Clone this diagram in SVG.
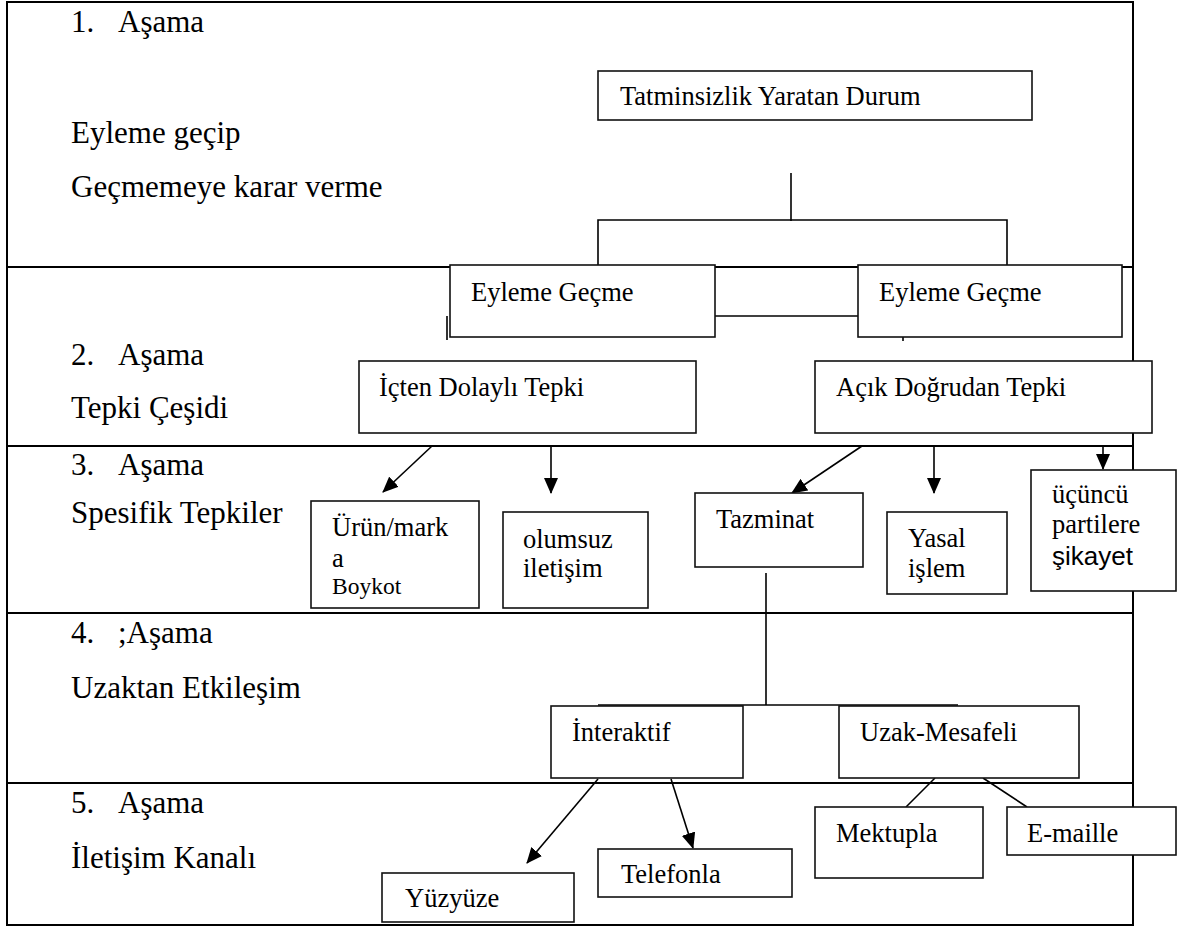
<svg xmlns="http://www.w3.org/2000/svg" width="1187" height="927" viewBox="0 0 1187 927">
<style>
.frame{fill:none;stroke:#000;stroke-width:2}
.div{stroke:#000;stroke-width:2}
.box{fill:#fff;stroke:#111;stroke-width:1.6}
.ln{fill:none;stroke:#000;stroke-width:1.6}
.lbl{font-family:"Liberation Serif","Times New Roman",serif;font-size:31px;fill:#000}
.t{font-family:"Liberation Serif","Times New Roman",serif;font-size:26.5px;fill:#000}
.ts{font-family:"Liberation Sans",Arial,sans-serif;font-size:26px;fill:#000}
</style>
<defs>
<marker id="ah" markerWidth="16" markerHeight="14" refX="15" refY="7" orient="auto" markerUnits="userSpaceOnUse">
<path d="M0,0 L16,7 L0,14 z" fill="#000"/>
</marker>
</defs>
<rect width="1187" height="927" fill="#fff"/>
<g id="frame">
<rect class="frame" x="7" y="2" width="1126" height="923"/>
<line class="div" x1="7" y1="267" x2="1133" y2="267"/>
<line class="div" x1="7" y1="446" x2="1133" y2="446"/>
<line class="div" x1="7" y1="613" x2="1133" y2="613"/>
<line class="div" x1="7" y1="783" x2="1133" y2="783"/>
</g>
<g id="stage-labels">
<text class="lbl" x="71" y="32">1.</text><text class="lbl" x="118" y="32">Aşama</text>
<text class="lbl" x="71" y="143">Eyleme geçip</text>
<text class="lbl" x="71" y="197">Geçmemeye karar verme</text>
<text class="lbl" x="71" y="365">2.</text><text class="lbl" x="118" y="365">Aşama</text>
<text class="lbl" x="71" y="418">Tepki Çeşidi</text>
<text class="lbl" x="71" y="475">3.</text><text class="lbl" x="118" y="475">Aşama</text>
<text class="lbl" x="71" y="523">Spesifik Tepkiler</text>
<text class="lbl" x="71" y="643">4.</text><text class="lbl" x="118" y="643">;Aşama</text>
<text class="lbl" x="71" y="698">Uzaktan Etkileşim</text>
<text class="lbl" x="71" y="813">5.</text><text class="lbl" x="118" y="813">Aşama</text>
<text class="lbl" x="71" y="868">İletişim Kanalı</text>
</g>
<g id="connectors">
<line class="ln" x1="791" y1="173" x2="791" y2="221"/>
<polyline class="ln" points="598,265 598,220 1007,220 1007,265"/>
<line class="ln" x1="715" y1="316" x2="858" y2="316"/>
<line class="ln" x1="447" y1="316" x2="447" y2="340"/>
<line class="ln" x1="903" y1="337" x2="903" y2="341"/>
<line class="ln" x1="432" y1="446" x2="383" y2="492" marker-end="url(#ah)"/>
<line class="ln" x1="551" y1="446" x2="551" y2="493" marker-end="url(#ah)"/>
<line class="ln" x1="862" y1="446" x2="792" y2="493" marker-end="url(#ah)"/>
<line class="ln" x1="934" y1="446" x2="934" y2="493" marker-end="url(#ah)"/>
<line class="ln" x1="1103" y1="446" x2="1103" y2="469" marker-end="url(#ah)"/>
<line class="ln" x1="766" y1="573" x2="766" y2="705"/>
<line class="ln" x1="598" y1="705" x2="958" y2="705"/>
<line class="ln" x1="598" y1="779" x2="527" y2="863" marker-end="url(#ah)"/>
<line class="ln" x1="671" y1="779" x2="693" y2="848" marker-end="url(#ah)"/>
<line class="ln" x1="935" y1="778" x2="906" y2="807"/>
<line class="ln" x1="983" y1="778" x2="1027" y2="807"/>
</g>
<g id="n-tatminsizlik"><rect class="box" x="598" y="71" width="434" height="49"/><text class="t" x="620" y="105">Tatminsizlik Yaratan Durum</text></g>
<g id="n-eyleme1"><rect class="box" x="450" y="265" width="265" height="72"/><text class="t" x="471" y="301">Eyleme Geçme</text></g>
<g id="n-eyleme2"><rect class="box" x="858" y="265" width="264" height="72"/><text class="t" x="879" y="301">Eyleme Geçme</text></g>
<g id="n-icten"><rect class="box" x="359" y="361" width="337" height="72"/><text class="t" x="379" y="396">İçten Dolaylı Tepki</text></g>
<g id="n-acik"><rect class="box" x="815" y="361" width="337" height="72"/><text class="t" x="836" y="396">Açık Doğrudan Tepki</text></g>
<g id="n-urun"><rect class="box" x="311" y="501" width="168" height="107"/><text class="t" x="332" y="536">Ürün/mark</text><text class="t" x="332" y="567">a</text><text class="t" x="332" y="594" style="font-size:23.5px">Boykot</text></g>
<g id="n-olumsuz"><rect class="box" x="503" y="512" width="145" height="96"/><text class="t" x="523" y="548">olumsuz</text><text class="t" x="523" y="577">iletişim</text></g>
<g id="n-tazminat"><rect class="box" x="695" y="493" width="168" height="74"/><text class="t" x="716" y="528">Tazminat</text></g>
<g id="n-yasal"><rect class="box" x="887" y="512" width="120" height="82"/><text class="t" x="908" y="547">Yasal</text><text class="t" x="908" y="577">işlem</text></g>
<g id="n-ucuncu"><rect class="box" x="1031" y="470" width="145" height="121"/><text class="t" x="1052" y="503">üçüncü</text><text class="t" x="1052" y="533">partilere</text><text class="ts" x="1052" y="565">şikayet</text></g>
<g id="n-interaktif"><rect class="box" x="551" y="706" width="192" height="72"/><text class="t" x="572" y="741">İnteraktif</text></g>
<g id="n-uzak"><rect class="box" x="839" y="706" width="240" height="72"/><text class="t" x="860" y="741">Uzak-Mesafeli</text></g>
<g id="n-yuzyuze"><rect class="box" x="382" y="873" width="192" height="49"/><text class="t" x="405" y="907">Yüzyüze</text></g>
<g id="n-telefonla"><rect class="box" x="598" y="849" width="194" height="48"/><text class="t" x="621" y="883">Telefonla</text></g>
<g id="n-mektupla"><rect class="box" x="815" y="807" width="168" height="71"/><text class="t" x="836" y="842">Mektupla</text></g>
<g id="n-emaille"><rect class="box" x="1007" y="807" width="169" height="48"/><text class="t" x="1027" y="842">E-maille</text></g>
</svg>
